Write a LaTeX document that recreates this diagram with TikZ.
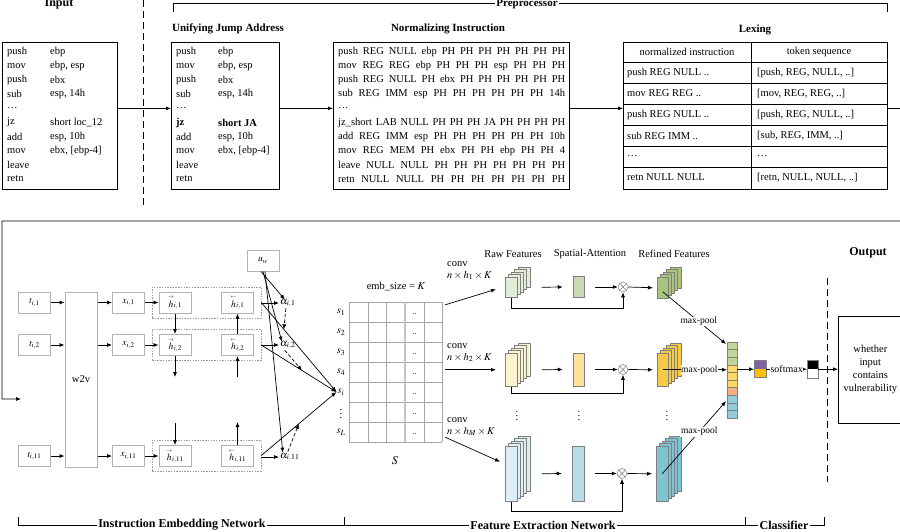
\documentclass[tikz,border=0pt]{standalone}
\usepackage{mathptmx}
\usepackage{fontspec}
\setmainfont{Liberation Serif}
\usetikzlibrary{arrows.meta,calc}
\definecolor{grA}{HTML}{E4EDD8}
\definecolor{grB}{HTML}{C9DAB2}
\definecolor{grC}{HTML}{A8C47E}
\definecolor{ylA}{HTML}{FEF3D0}
\definecolor{ylB}{HTML}{FDE29A}
\definecolor{ylC}{HTML}{F7C948}
\definecolor{blA}{HTML}{DDEFF5}
\definecolor{blB}{HTML}{B5DCE7}
\definecolor{blC}{HTML}{80C3D3}
\definecolor{vG}{HTML}{C3D69B}
\definecolor{vY}{HTML}{FFD966}
\definecolor{vO}{HTML}{F4B183}
\definecolor{vB}{HTML}{92CDDC}
\definecolor{smP}{HTML}{8064A2}
\definecolor{smY}{HTML}{FFC000}
\definecolor{edge}{HTML}{7F7F7F}
\newcommand\twod{..}
\newcommand\nline[1]{\makebox[227pt][s]{#1}}
\newcommand\hfw{{\stackrel{\scriptscriptstyle\rightarrow}{h}}}
\newcommand\hbw{{\stackrel{\scriptscriptstyle\leftarrow}{h}}}
\newcommand\fmstack[6]{%
  \foreach \j in {4,3,2,1}{%
    \draw[draw=edge, fill=#6, line width=0.5pt] (#2+3.2*\j,#3-2.5*\j) rectangle ++(#4,#5);}
  \node[draw=edge, fill=#6, line width=0.5pt, minimum width=#4pt, minimum height=#5pt, inner sep=0pt, anchor=north west] (#1) at (#2,#3) {};
}
\begin{document}
\begin{tikzpicture}[x=1pt, y=-1pt, >={Latex[length=5pt,width=4pt]},
  arr/.style={->, line width=0.7pt},
  code/.style={anchor=west, inner sep=0pt, font=\fontsize{10.5}{12}\selectfont},
  cbox/.style={draw, line width=0.9pt, inner sep=0pt, anchor=north west},
  ttl/.style={inner sep=1pt, font=\fontsize{11}{13}\selectfont\bfseries},
  big/.style={inner sep=1.5pt, font=\fontsize{12}{14}\selectfont\bfseries},
  brk/.style={fill=white, inner sep=1.5pt, font=\fontsize{12}{14}\selectfont\bfseries},
  sbox/.style={draw=gray!60, line width=1pt, fill=white, minimum width=32pt, minimum height=21pt, inner sep=0pt, font=\fontsize{9.5}{11}\selectfont},
  grp/.style={draw=gray!75, dash pattern=on 1.5pt off 1.2pt, line width=0.6pt, minimum width=109pt, minimum height=31pt, inner sep=0pt},
  lbl/.style={inner sep=1pt, font=\fontsize{10.5}{12}\selectfont},
  mp/.style={fill=white, inner sep=0.6pt, font=\fontsize{9.5}{11}\selectfont},
  dsh/.style={dash pattern=on 7pt off 4pt, line width=0.8pt},
  spat/.style={draw=edge, line width=0.5pt, inner sep=0pt},
  otim/.style={circle, draw=edge, line width=0.5pt, fill=white, minimum size=10pt, inner sep=0pt,
    path picture={\draw[edge, line width=0.5pt] (path picture bounding box.north west) -- (path picture bounding box.south east) (path picture bounding box.north east) -- (path picture bounding box.south west);}}
]
\useasboundingbox (0,0) rectangle (900,531);
\fill[white] (0,0) rectangle (900,531);

% ===== top: preprocessor =====
\node[big] (inputt) at (59,4) {Input};
\draw[dsh] (143,0) -- (143,207);
\draw[line width=0.7pt] (173,12) -- (173,3) -- (887,3) -- (887,12);
\node[brk, font=\fontsize{11}{13}\selectfont\bfseries] (prep) at (527,4) {Preprocessor};

\node[cbox, minimum width=115pt, minimum height=147pt] (inbox) at (2,42) {};
\foreach \a/\b [count=\k from 0] in {push/ebp, mov/{ebp, esp}, push/ebx, sub/{esp, 14h}, {\ldots}/{}, jz/{short loc\_12}, add/{esp, 10h}, mov/{ebx, [ebp-4]}, leave/{}, retn/{}}{
  \node[code] (ia\k) at (7,52+14.1*\k) {\a};
  \node[code] (ib\k) at (50,52+14.1*\k) {\b};
}

\node[ttl] (unit) at (228,29) {Unifying Jump Address};
\node[cbox, minimum width=108pt, minimum height=147pt] (unibox) at (171,42) {};
\foreach \a/\b [count=\k from 0] in {push/ebp, mov/{ebp, esp}, push/ebx, sub/{esp, 14h}, {\ldots}/{}, {\textbf{jz}}/{\textbf{short JA}}, add/{esp, 10h}, mov/{ebx, [ebp-4]}, leave/{}, retn/{}}{
  \node[code] (ua\k) at (176,52+14.1*\k) {\a};
  \node[code] (ub\k) at (218,52+14.1*\k) {\b};
}

\node[ttl] (normt) at (448,29) {Normalizing Instruction};
\node[cbox, minimum width=236pt, minimum height=147pt] (normbox) at (333,42) {};
\node[code] (nm0) at (338,52.0) {\nline{push REG NULL ebp PH PH PH PH PH PH PH}};
\node[code] (nm1) at (338,66.1) {\nline{mov REG REG ebp PH PH PH esp PH PH PH}};
\node[code] (nm2) at (338,80.2) {\nline{push REG NULL PH ebx PH PH PH PH PH PH}};
\node[code] (nm3) at (338,94.3) {\nline{sub REG IMM esp PH PH PH PH PH PH 14h}};
\node[code] (nm4) at (338,108.4) {\ldots};
\node[code] (nm5) at (338,122.5) {\nline{jz\_short LAB NULL PH PH PH JA PH PH PH PH}};
\node[code] (nm6) at (338,136.6) {\nline{add REG IMM esp PH PH PH PH PH PH 10h}};
\node[code] (nm7) at (338,150.7) {\nline{mov REG MEM PH ebx PH PH ebp PH PH 4}};
\node[code] (nm8) at (338,164.8) {\nline{leave NULL NULL PH PH PH PH PH PH PH}};
\node[code] (nm9) at (338,178.9) {\nline{retn NULL NULL PH PH PH PH PH PH PH}};

\node[ttl] (lext) at (755,30) {Lexing};
\node[cbox, minimum width=264pt, minimum height=147pt] (lexbox) at (623,42) {};
\foreach \yy in {62,83,104,125,146,167}{\draw[line width=0.8pt] (623,\yy) -- (887,\yy);}
\draw[line width=0.8pt] (751,42) -- (751,189);
\node[lbl] (lh1) at (687,52) {normalized instruction};
\node[lbl] (lh2) at (819,52) {token sequence};
\foreach \a/\b [count=\k from 0] in {{push REG NULL \twod}/{[push, REG, NULL, \twod]}, {mov REG REG \twod}/{[mov, REG, REG, \twod]}, {push REG NULL \twod}/{[push, REG, NULL, \twod]}, {sub REG IMM \twod}/{[sub, REG, IMM, \twod]}, {\ldots}/{\ldots}, {retn NULL NULL}/{[retn, NULL, NULL, \twod]}}{
  \node[code] (la\k) at (627,72.5+21*\k) {\a};
  \node[code] (lb\k) at (757,72.5+21*\k) {\b};
}

\draw[arr] (inbox.east |- ia4) -- (unibox.west |- ia4);
\draw[arr] (unibox.east |- ia4) -- (normbox.west |- ia4);
\draw[arr] (normbox.east |- ia4) -- (lexbox.west |- ia4);
\coordinate (retend) at (21,399);
\draw[arr] (lexbox.east |- ia4) -- (904,108.4) -- (904,221) -- (2,221) -- (2,399) -- (retend);

% ===== instruction embedding network =====
\node[grp] (g1) at (206.5,302.5) {};
\node[grp] (g2) at (206.5,345) {};
\node[grp] (g11) at (206.5,455.5) {};
\node[sbox] (t1) at (34.5,302.5) {$t_{i,1}$};
\node[sbox] (t2) at (34.5,345) {$t_{i,2}$};
\node[sbox] (t11) at (34.5,456) {$t_{i,11}$};
\node[sbox, minimum height=175pt, font=\fontsize{10.5}{12}\selectfont] (w2v) at (81,379.5) {w2v};
\node[sbox] (x1) at (128.5,302.5) {$x_{i,1}$};
\node[sbox] (x2) at (128.5,345) {$x_{i,2}$};
\node[sbox] (x11) at (128.5,456) {$x_{i,11}$};
\node[sbox] (hf1) at (175,302.5) {$\hfw_{i,1}$};
\node[sbox] (hf2) at (175,345) {$\hfw_{i,2}$};
\node[sbox] (hf11) at (175,456) {$\hfw_{i,11}$};
\node[sbox] (hb1) at (237.5,302.5) {$\hbw_{i,1}$};
\node[sbox] (hb2) at (237.5,345) {$\hbw_{i,2}$};
\node[sbox] (hb11) at (237.5,456) {$\hbw_{i,11}$};
\node[sbox] (uw) at (263,260.5) {$u_w$};
\node[lbl, anchor=west] (a1) at (279,303) {$\alpha_{i,1}$};
\node[lbl, anchor=west] (a2) at (279,345) {$\alpha_{i,2}$};
\node[lbl, anchor=west] (a11) at (279,457) {$\alpha_{i,11}$};

\foreach \i in {1,2,11}{
  \draw[arr] (t\i.east) -- (t\i.east -| w2v.west);
  \draw[arr] (x\i.west -| w2v.east) -- (x\i.west);
  \draw[arr] (x\i.east) -- (hf\i.west);
  \draw[arr] (g\i.east |- a\i.west) -- (a\i.west);
}
\coordinate (hfd) at (175,377);
\coordinate (hfu) at (175,423);
\coordinate (hbd) at (237.5,377);
\coordinate (hbu) at (237.5,422);
\draw[arr] (hf1.south) -- (hf2.north);
\draw[arr] (hf2.south) -- (hfd);
\draw[arr] (hfu) -- (hf11.north);
\draw[arr] (hb2.north) -- (hb1.south);
\draw[arr] (hbd) -- (hb2.south);
\draw[arr] (hb11.north) -- (hbu);

% ===== matrix S =====
\node[inner sep=0pt, minimum width=93pt, minimum height=140pt] (Smat) at (395.5,372) {};
\foreach \yy in {302,322,342,362,382,402,422,442}{\draw[gray!70, line width=0.6pt] (349,\yy) -- (442,\yy);}
\foreach \xx in {349,368,386,424,442}{\draw[gray!70, line width=0.6pt] (\xx,302) -- (\xx,442);}
\draw[gray!45, line width=1.6pt] (405,302) -- (405,442);
\foreach \k in {0,...,6}{\node[inner sep=0pt, font=\fontsize{8}{8}\selectfont] (dd\k) at (414.5,314+20*\k) {\twod};}
\node[lbl] (s1) at (341,312) {$s_1$};
\node[lbl] (s2) at (341,332) {$s_2$};
\node[lbl] (s3) at (341,352) {$s_3$};
\node[lbl] (s4) at (341,372) {$s_4$};
\node[lbl] (si) at (341,392) {$s_i$};
\node[lbl] (sv) at (341,411) {$\vdots$};
\node[lbl] (sL) at (341,432) {$s_L$};
\node[lbl] (emb) at (396,287) {emb\_size = $K$};
\node[lbl, font=\fontsize{12}{14}\selectfont] (Slab) at (395,461) {$S$};

\coordinate (p1) at ($(g1.east)!0.3!(si.west)$);
\coordinate (p2) at ($(g2.east)!0.54!(si.west)$);
\coordinate (p11) at ($(g11.east)!0.5!(si.west)$);
\draw[arr] (g1.east) -- (si.west);
\draw[arr] (g2.east) -- (si.west);
\draw[arr] (g11.east) -- (si.west);
\draw[arr] ($(uw.south)+(-2,0)$) -- ($(a1.north)+(-3,2)$);
\draw[arr] (uw.south) -- ($(a2.north)+(-6,2)$);
\draw[arr] ($(uw.south)+(2,0)$) -- ($(a11.north)+(-7,1)$);
\draw[arr, dash pattern=on 3.5pt off 2pt] ($(a1.south)+(-2,0)$) -- (p1);
\draw[arr, dash pattern=on 3.5pt off 2pt] ($(a2.south)+(-3,0)$) -- (p2);
\draw[arr, dash pattern=on 3.5pt off 2pt] ($(a11.north)+(-2,0)$) -- (p11);

% ===== feature extraction =====
\node[lbl] (hraw) at (513,254) {Raw Features};
\node[lbl] (hspa) at (590,254) {Spatial-Attention};
\node[lbl] (href) at (674,254) {Refined Features};

\fmstack{raw1}{505}{277}{12}{20}{grA}
\fmstack{raw2}{505}{353}{12}{33}{ylA}
\fmstack{rawM}{505}{446}{12}{55}{blA}
\node[spat, fill=grB, minimum width=11pt, minimum height=21pt] (sp1) at (578.5,287) {};
\node[spat, fill=ylB, minimum width=11pt, minimum height=33pt] (sp2) at (578.5,369.5) {};
\node[spat, fill=blB, minimum width=12pt, minimum height=55pt] (spM) at (578,473.5) {};
\fmstack{ref1}{657}{277}{11}{21}{grC}
\fmstack{ref2}{657}{353}{11}{33}{ylC}
\fmstack{refM}{656}{446}{12}{55}{blC}
\node[otim] (o1) at (623,287) {};
\node[otim] (o2) at (623,369.5) {};
\node[otim] (oM) at (622,473.5) {};

\foreach \b/\d in {1/11, 2/7, M/10}{
  \draw[arr] ($(raw\b.east)+(24,0)$) -- ($(sp\b.west)+(-10,0)$);
  \draw[arr] ($(sp\b.east)+(11,0)$) -- (o\b.west);
  \draw[arr] (o\b.east) -- ($(ref\b.west)+(-4,0)$);
  \draw[arr] (raw\b.south) -- ++(0,\d) -| (o\b.south);
}

\node[lbl, align=left, anchor=north west, inner sep=0pt] (c1) at (447,261) {conv\\$n\times h_1\times K$};
\node[lbl, align=left, anchor=north west, inner sep=0pt] (c2) at (447,343) {conv\\$n\times h_2\times K$};
\node[lbl, align=left, anchor=north west, inner sep=0pt] (cM) at (447,417) {conv\\$n\times h_M\times K$};
\draw[arr] ($(Smat.north east)+(3,3)$) -- ($(raw1.west)+(-9,2)$);
\draw[arr] ($(Smat.east |- raw2.west)+(3,0)$) -- ($(raw2.west)+(-9,0)$);
\draw[arr] ($(Smat.south east)+(3,-5)$) -- ($(rawM.west)+(-5,-12)$);

\node[lbl] (vd1) at (517,413) {$\vdots$};
\node[lbl] (vd2) at (579,413) {$\vdots$};
\node[lbl] (vd3) at (667,413) {$\vdots$};

% concatenated vector
\node[inner sep=0pt, minimum width=10pt, minimum height=76pt, anchor=north west] (vec) at (727,342) {};
\foreach \c [count=\k from 0] in {vG,vG,vG,vY,vY,vY,vO,vB,vB,vB}{
  \draw[draw=edge, fill=\c, line width=0.5pt] (727,342+7.6*\k) rectangle ++(10,7.6);
}
\foreach \k in {2,5,6,9}{\node[inner sep=0pt, font=\fontsize{4}{4}\selectfont, text=gray] (vdt\k) at (732,342+7.6*\k+4.6) {...};}

\draw[arr] ($(ref1.center)+(0,4)$) -- node[pos=0.57, mp] (mp1) {max-pool} ($(vec.north west)+(-1,2)$);
\draw[arr] (ref2.center) -- node[pos=0.57, mp] (mp2) {max-pool} (vec.west |- ref2.center);
\draw[arr] (refM.center) -- node[pos=0.58, mp] (mp3) {max-pool} ($(vec.west)+(-1,21)$);

% ===== classifier / output =====
\node[inner sep=0pt, minimum width=12pt, minimum height=17pt, anchor=north west] (sm) at (754,360.5) {};
\fill[smP] (754,360.5) rectangle (766,369);
\fill[smY] (754,369) rectangle (766,377.5);
\draw[edge, line width=0.5pt] (754,360.5) rectangle (766,377.5);
\node[inner sep=0pt, minimum width=11pt, minimum height=18pt, anchor=north west] (ob) at (807,360) {};
\fill[black] (807,360) rectangle (818,369);
\draw[edge, line width=0.5pt] (807,360) rectangle (818,378);
\draw[arr] (vec.east |- sm.west) -- (sm.west);
\draw[arr] (sm.east) -- node[mp, font=\fontsize{10}{11}\selectfont] (smx) {softmax} (ob.west);

\draw[dsh] (827,278) -- (827,482);
\node[big] (outt) at (868,253) {Output};
\node[draw, line width=0.7pt, minimum width=64pt, minimum height=107pt, anchor=north west, align=center, inner sep=1pt, font=\fontsize{10.5}{13}\selectfont] (obox) at (838,316) {whether\\input\\contains\\vulnerability};
\draw[arr] (ob.east) -- (obox.west |- ob.east);

% ===== bottom brackets =====
\draw[line width=0.7pt] (18,517) -- (18,525) -- (824,525) -- (824,517);
\draw[line width=0.7pt] (344,525) -- (344,517);
\draw[line width=0.7pt] (745,525) -- (745,517);
\node[brk] (ien) at (182,525) {Instruction Embedding Network};
\node[brk] (fen) at (543,525) {Feature Extraction Network};
\node[brk] (cls) at (784,525) {Classifier};
\end{tikzpicture}
\end{document}
